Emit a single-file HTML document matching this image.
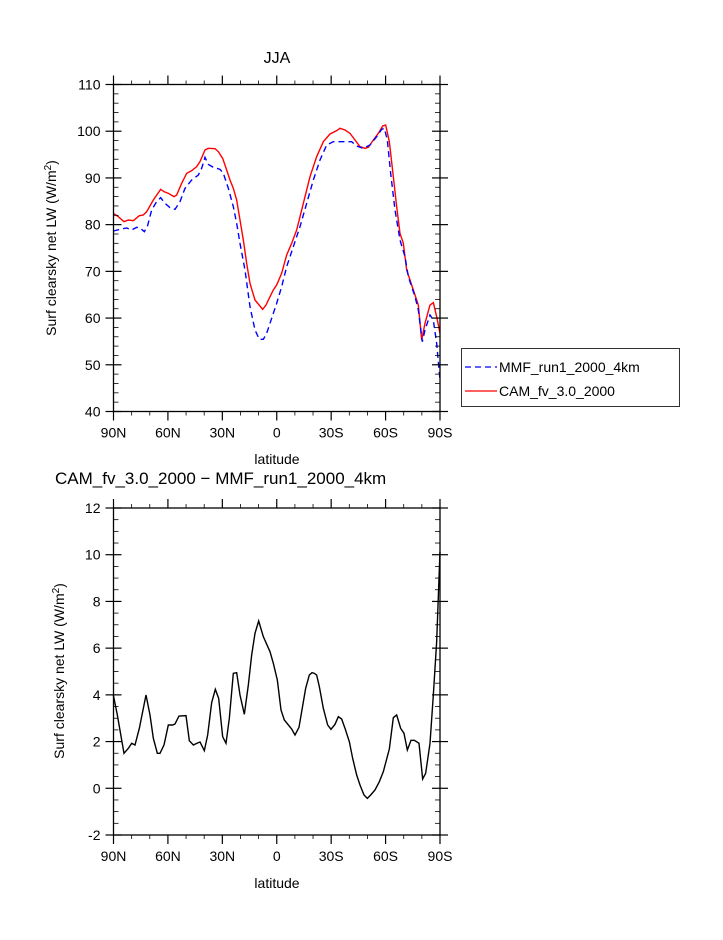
<!DOCTYPE html>
<html><head><meta charset="utf-8"><style>
body{margin:0;background:#fff;width:723px;height:935px;overflow:hidden}
svg text{font-family:"Liberation Sans","DejaVu Sans",sans-serif;fill:#000}
</style></head><body>
<svg id="s" width="723" height="935" xmlns="http://www.w3.org/2000/svg">
<text x="277" y="63" font-size="16" text-anchor="middle">JJA</text>
<text x="55" y="484" font-size="17">CAM_fv_3.0_2000 − MMF_run1_2000_4km</text>
<text x="277" y="464" font-size="14" text-anchor="middle">latitude</text>
<text x="277" y="888" font-size="14" text-anchor="middle">latitude</text>
<text transform="translate(56,248) rotate(-90)" font-size="14" text-anchor="middle">Surf clearsky net LW (W/m<tspan dy="-5" font-size="10">2</tspan><tspan dy="5">)</tspan></text>
<text transform="translate(64,671) rotate(-90)" font-size="14" text-anchor="middle">Surf clearsky net LW (W/m<tspan dy="-5" font-size="10">2</tspan><tspan dy="5">)</tspan></text>
<rect x="461.5" y="348.5" width="218" height="58" fill="none" stroke="#000" stroke-width="0.8"/>
<line x1="465" y1="367" x2="497" y2="367" stroke="#0000ff" stroke-width="1.3" stroke-dasharray="6,4"/>
<text x="499" y="372" font-size="14">MMF_run1_2000_4km</text>
<line x1="465" y1="391" x2="497" y2="391" stroke="#ff0000" stroke-width="1.3"/>
<text x="499" y="396" font-size="14">CAM_fv_3.0_2000</text>
<g transform="translate(100,70) scale(0.33333)" fill="none">
<polyline vector-effect="non-scaling-stroke" stroke="#ff0000" stroke-width="1.4" points="40,430 55,440 72,455 85,450 100,452 118,437 130,435 140,425 160,390 182,358 192,365 205,370 222,380 230,375 245,340 260,310 275,302 290,290 300,275 315,240 325,235 345,236 355,245 368,265 380,300 390,330 400,355 410,390 420,450 430,510 440,580 450,640 465,690 488,718 498,705 510,680 520,660 530,645 545,610 560,555 575,520 590,480 600,440 615,380 630,320 650,260 670,215 690,192 710,182 720,175 735,180 750,190 765,210 780,230 795,235 805,232 820,210 835,190 848,168 857,165 868,215 880,320 890,410 900,490 910,520 920,600 940,660 955,705 965,810 975,760 990,705 1000,698 1010,740 1020,790"/>
<polyline vector-effect="non-scaling-stroke" stroke="#0000ff" stroke-width="1.4" stroke-dasharray="6,4" points="40,483 60,478 80,474 95,480 110,472 120,474 133,485 142,470 155,420 170,395 182,383 195,400 210,413 225,418 240,395 255,355 275,330 295,315 305,295 315,262 325,283 340,292 360,298 370,310 385,355 400,410 410,460 420,520 435,600 450,710 465,780 478,808 490,808 500,790 515,745 530,700 545,650 560,590 580,530 600,470 620,400 640,330 660,270 680,225 700,215 755,215 770,228 790,235 810,225 830,200 845,178 853,175 862,210 872,310 885,420 900,510 915,560 925,620 945,680 955,720 967,815 975,780 990,735 1000,750 1010,820 1020,930"/>
</g>
<g transform="translate(100,495) scale(0.33333)" fill="none">
<polyline vector-effect="non-scaling-stroke" stroke="#000" stroke-width="1.4" points="40,600 52,660 72,775 85,760 95,745 105,750 118,700 138,600 150,660 160,730 172,775 180,775 192,750 205,690 218,690 225,687 237,663 258,662 268,737 280,750 290,745 300,741 313,767 323,720 335,623 346,583 356,610 368,725 378,745 388,670 400,535 410,533 420,600 433,658 445,570 455,480 465,415 476,378 490,425 510,470 520,505 532,555 543,645 553,675 565,690 575,702 585,720 597,697 605,650 617,580 628,540 636,533 643,535 650,540 658,575 670,640 683,690 693,703 705,688 715,665 725,672 735,700 748,740 758,790 770,840 780,870 792,900 802,910 812,900 825,885 838,860 850,830 868,762 880,668 890,660 902,700 912,715 922,765 933,736 943,736 957,745 968,852 977,835 990,745 1000,600 1010,440 1020,170"/>
</g>
</svg>
<script>
var s=document.getElementById('s'),NS='http://www.w3.org/2000/svg';
function el(t,a,txt){var e=document.createElementNS(NS,t);for(var k in a)e.setAttribute(k,a[k]);if(txt!=null)e.textContent=txt;s.appendChild(e);return e;}
function ln(x1,y1,x2,y2,w){el('line',{x1:x1,y1:y1,x2:x2,y2:y2,stroke:'#000','stroke-width':w||1});}
function frame(L,R,T,B,ymin,ymax,ystep,yminor,fmt){
 el('rect',{x:L,y:T,width:R-L,height:B-T,fill:'none',stroke:'#000','stroke-width':1.3});
 var xl=['90N','60N','30N','0','30S','60S','90S'];
 for(var i=0;i<=18;i++){var x=L+(R-L)*i/18;var maj=i%3==0;var len=maj?9:4;
  ln(x,T,x,T-len,maj?1.2:0.8);ln(x,B,x,B+len,maj?1.2:0.8);
  if(maj)el('text',{x:x,y:B+26,'font-size':14,'text-anchor':'middle'},xl[i/3]);}
 var n=Math.round((ymax-ymin)/yminor);
 for(var j=0;j<=n;j++){var v=ymin+j*yminor;var y=B-(B-T)*(v-ymin)/(ymax-ymin);
  var maj=Math.abs(v/ystep-Math.round(v/ystep))<1e-6;
  if(maj){ln(L-8,y,L+8,y,1.2);ln(R-8,y,R+8,y,1.2);el('text',{x:L-13,y:y+5,'font-size':14,'text-anchor':'end'},String(Math.round(v)));}
  else{ln(L,y,L+5,y,0.8);ln(R,y,R-5,y,0.8);}}
}
frame(113.5,440,84.5,411.5,40,110,10,2);
frame(113.5,440,508,835,-2,12,2,0.5);
</script>
</body></html>
